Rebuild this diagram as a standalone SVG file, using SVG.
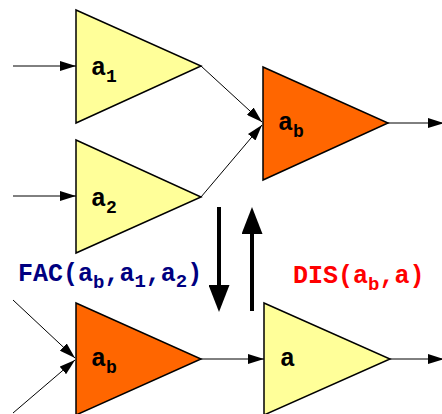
<svg xmlns="http://www.w3.org/2000/svg" width="442" height="414" viewBox="0 0 442 414">
<style>
.tri{stroke:#000;stroke-width:1.5;stroke-linejoin:miter}
.yel{fill:#ffff99}
.org{fill:#ff6600}
.lbl{font-family:"Liberation Mono","Courier New",monospace;font-weight:bold;font-size:25px;fill:#000}
.sub{font-size:18px}
.cap{font-family:"Liberation Mono","Courier New",monospace;font-weight:bold;font-size:25px}
.cap .s{font-size:19px}
.thin{stroke:#000;stroke-width:1;fill:none;marker-end:url(#ah)}
.big{stroke:#000;stroke-width:4;fill:none;marker-end:url(#bh)}
</style>
<defs>
<marker id="ah" markerUnits="userSpaceOnUse" markerWidth="16" markerHeight="10" refX="16" refY="5" orient="auto" viewBox="0 0 16 10">
<path d="M0,0 L16,5 L0,10 z" fill="#000"/>
</marker>
<marker id="bh" markerUnits="userSpaceOnUse" markerWidth="27" markerHeight="21" refX="0" refY="10.5" orient="auto" viewBox="0 0 27 21">
<path d="M0,0 L27,10.5 L0,21 z" fill="#000"/>
</marker>
</defs>
<rect width="442" height="414" fill="#fff"/>
<g id="connectors">
<line class="thin" x1="13" y1="66" x2="76" y2="66"/>
<line class="thin" x1="13" y1="196" x2="76" y2="196"/>
<line class="thin" x1="201" y1="66" x2="262" y2="122"/>
<line class="thin" x1="201" y1="197" x2="262" y2="125"/>
<line class="thin" x1="388" y1="123" x2="444" y2="123"/>
<line class="thin" x1="13" y1="300" x2="75" y2="358"/>
<line class="thin" x1="13" y1="413" x2="75" y2="360"/>
<line class="thin" x1="201" y1="359" x2="264" y2="359"/>
<line class="thin" x1="390" y1="359" x2="444" y2="359"/>
<line class="big" x1="219" y1="207" x2="219" y2="285"/>
<line class="big" x1="252" y1="311" x2="252" y2="234"/>
</g>
<g id="a1">
<polygon class="tri yel" points="76,10 201,66 76,123"/>
<text class="lbl" x="91" y="75">a<tspan class="sub" dy="7">1</tspan></text>
</g>
<g id="a2">
<polygon class="tri yel" points="76,140 201,197 76,253"/>
<text class="lbl" x="91" y="206">a<tspan class="sub" dy="7">2</tspan></text>
</g>
<g id="ab_top">
<polygon class="tri org" points="263,67 388,123 263,180"/>
<text class="lbl" x="278" y="130">a<tspan class="sub" dy="7">b</tspan></text>
</g>
<g id="ab_bottom">
<polygon class="tri org" points="76,303 201,359 76,415"/>
<text class="lbl" x="91" y="366">a<tspan class="sub" dy="7">b</tspan></text>
</g>
<g id="a">
<polygon class="tri yel" points="264,303 390,359 264,415"/>
<text class="lbl" x="280" y="366">a</text>
</g>
<g id="labels">
<text class="cap" x="18" y="281" fill="#000080">FAC(a<tspan class="s" dy="7">b</tspan><tspan dy="-7">,a</tspan><tspan class="s" dy="6">1</tspan><tspan dy="-6">,a</tspan><tspan class="s" dy="6">2</tspan><tspan dy="-6">)</tspan></text>
<text class="cap" x="293" y="283" fill="#ff0000">DIS(a<tspan class="s" dy="7">b</tspan><tspan dy="-7">,a)</tspan></text>
</g>
</svg>
